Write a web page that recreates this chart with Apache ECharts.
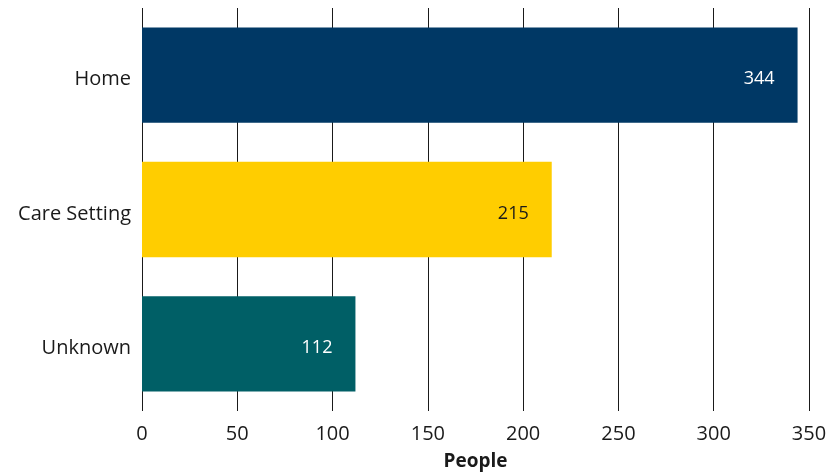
<!DOCTYPE html>
<html><head><meta charset="utf-8">
<script src="https://cdn.jsdelivr.net/npm/echarts@6/dist/echarts.min.js"></script>
<style>html,body{margin:0;padding:0;background:#fff}#c{width:829px;height:473px}</style>
</head><body><div id="c"></div>
<script>
const categories = ["Home", "Care Setting", "Unknown"];
const values = [344, 215, 112];
const barColors = ["#003865", "#FFCD00", "#005F66"];
const labelColors = ["#ffffff", "#1a1a1a", "#ffffff"];
const xTicks = [0, 50, 100, 150, 200, 250, 300, 350];
const FONT = '"Open Sans", "Liberation Sans", Arial, sans-serif';

const chart = echarts.init(document.getElementById('c'), null, {renderer: 'canvas'});
chart.setOption({
  animation: false,
  textStyle: {fontFamily: FONT},
  grid: {left: 142, right: 20, top: 8, bottom: 62, outerBoundsMode: 'none', containLabel: false},
  xAxis: {
    type: 'value', min: xTicks[0], max: xTicks[xTicks.length - 1], interval: 50,
    name: 'People', nameLocation: 'middle', nameGap: 41,
    nameTextStyle: {fontSize: 19, fontWeight: 'bold', color: '#1a1a1a', fontFamily: FONT},
    axisLine: {show: false},
    axisTick: {show: false},
    axisLabel: {fontSize: 20, color: '#1a1a1a', margin: 13, fontFamily: FONT},
    splitLine: {show: true, lineStyle: {color: '#1a1a1a', width: 1}}
  },
  yAxis: {
    type: 'category', data: categories, inverse: true,
    axisLine: {show: false}, axisTick: {show: false},
    axisLabel: {fontSize: 20, color: '#1a1a1a', margin: 11, fontFamily: FONT,
      verticalAlign: 'top', lineHeight: 9}
  },
  series: [{
    type: 'bar', barCategoryGap: '29%',
    data: values.map((v, i) => ({value: v, itemStyle: {color: barColors[i]},
      label: {color: labelColors[i]}})),
    label: {show: true, position: 'insideRight', distance: 23, fontSize: 18, fontFamily: FONT, offset: [0, 4]}
  }]
});
</script></body></html>
